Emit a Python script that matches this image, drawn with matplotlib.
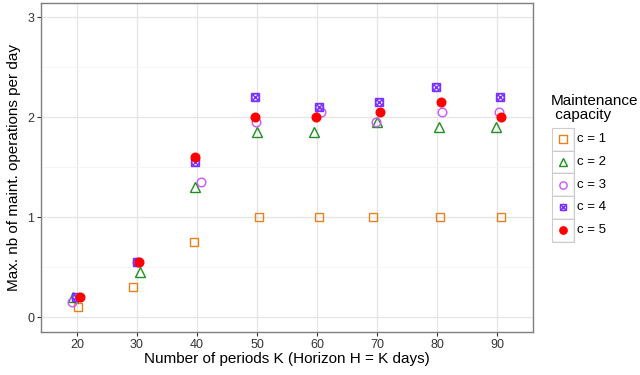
import matplotlib
matplotlib.use("Agg")
import matplotlib.pyplot as plt
from matplotlib.patches import Rectangle
import numpy as np

plt.rcParams['font.family'] = ['Liberation Sans', 'DejaVu Sans']

# ---- data ----
K = [20, 30, 40, 50, 60, 70, 80, 90]
labels = ['c = 1', 'c = 2', 'c = 3', 'c = 4', 'c = 5']
c1 = [0.10, 0.30, 0.75, 1.00, 1.00, 1.00, 1.00, 1.00]
c2 = [0.20, 0.45, 1.30, 1.85, 1.85, 1.95, 1.90, 1.90]
c3 = [0.15, 0.55, 1.35, 1.95, 2.05, 1.95, 2.05, 2.05]
c4 = [0.20, 0.55, 1.55, 2.20, 2.10, 2.15, 2.30, 2.20]
c5 = [0.20, 0.55, 1.60, 2.00, 2.00, 2.05, 2.15, 2.00]
# horizontal jitter
j1 = [0.2, -0.6, -0.45, 0.3, 0.3, -0.7, 0.5, 0.6]
j2 = [-0.6, 0.5, -0.3, 0.05, -0.45, 0.0, 0.4, -0.2]
j3 = [-0.8, 0.0, 0.6, -0.1, 0.7, -0.1, 0.9, 0.4]
j4 = [-0.2, 0.0, -0.3, -0.4, 0.4, 0.3, -0.1, 0.5]
j5 = [0.5, 0.3, -0.3, -0.3, -0.2, 0.5, 0.7, 0.7]

series = [c1, c2, c3, c4, c5]
jitters = [j1, j2, j3, j4, j5]
colors = ['#E8801A', '#1F8F1F', '#CC55FF', '#7B2FFF', '#FF0000']

fig = plt.figure(figsize=(6.4, 3.75), dpi=100)
ax = fig.add_axes([41/640, 43/375, 492/640, 329/375])

K_arr = np.array(K)

def draw(ax, kind, x, y, col, s=1.0):
    if kind == 0:
        ax.plot(x, y, 's', ms=6*s, mfc='none', mec=col, mew=1.0, ls='none', zorder=3)
    elif kind == 1:
        ax.plot(x, y, '^', ms=7.5*s, mfc='none', mec=col, mew=1.0, ls='none', zorder=3)
    elif kind == 2:
        ax.plot(x, y, 'o', ms=6.2*s, mfc='none', mec=col, mew=1.0, ls='none', zorder=3)
    elif kind == 3:
        ax.plot(x, y, 's', ms=5.6*s, mfc='none', mec=col, mew=1.0, ls='none', zorder=3)
        ax.plot(x, y, 'x', ms=4.8*s, mec=col, mew=1.0, ls='none', zorder=3)
        ax.plot(x, y, 'o', ms=5.2*s, mfc='none', mec=col, mew=0.9, ls='none', zorder=3)
    else:
        ax.plot(x, y, 'o', ms=6.2*s, mfc=col, mec=col, ls='none', zorder=3)

for i, (vals, jit, col) in enumerate(zip(series, jitters, colors)):
    draw(ax, i, K_arr + np.array(jit), vals, col)

ax.set_xlim(14, 96)
ax.set_ylim(-0.15, 3.14)
ax.set_xticks(K)
ax.set_yticks([0, 1, 2, 3])
ax.set_yticks([0.5, 1.5, 2.5], minor=True)
ax.grid(True, which='major', color='#e5e5e5', lw=0.9)
ax.grid(True, which='minor', axis='y', color='#f3f3f3', lw=0.6)
ax.tick_params(which='minor', length=0)
ax.set_axisbelow(True)
for sp in ax.spines.values():
    sp.set_color('#7f7f7f')
    sp.set_linewidth(1.0)
ax.tick_params(which='major', length=3, color='#333333', width=0.8,
               labelsize=9, labelcolor='#333333', pad=2)
ax.set_xlabel('Number of periods K (Horizon H = K days)', fontsize=11, labelpad=1)
ax.set_ylabel('Max. nb of maint. operations per day', fontsize=11, labelpad=4)

# ---- legend (ggplot style keys) ----
fig.text(551/640, 1 - 108/375, 'Maintenance\n capacity', fontsize=11,
         ha='left', va='center', linespacing=0.95)
kx0, ky0, kw, kh = 552, 128, 22, 22.7
lax = fig.add_axes([0, 0, 1, 1], facecolor='none')
lax.set_xlim(0, 640)
lax.set_ylim(375, 0)
lax.axis('off')
for i, (lab, col) in enumerate(zip(labels, colors)):
    y0 = ky0 + i * kh
    lax.add_patch(Rectangle((kx0, y0), kw, kh, fc='#f2f2f2', ec='#cccccc', lw=0.8))
    lax.add_patch(Rectangle((kx0 + 1, y0 + 1), kw - 2, kh - 2, fc='white', ec='none'))
    draw(lax, i, [kx0 + kw / 2], [y0 + kh / 2], col, s=0.85)
    lax.text(kx0 + kw + 3, y0 + kh / 2, lab, fontsize=9.5, va='center', ha='left')

fig.savefig('out.png', dpi=100)
